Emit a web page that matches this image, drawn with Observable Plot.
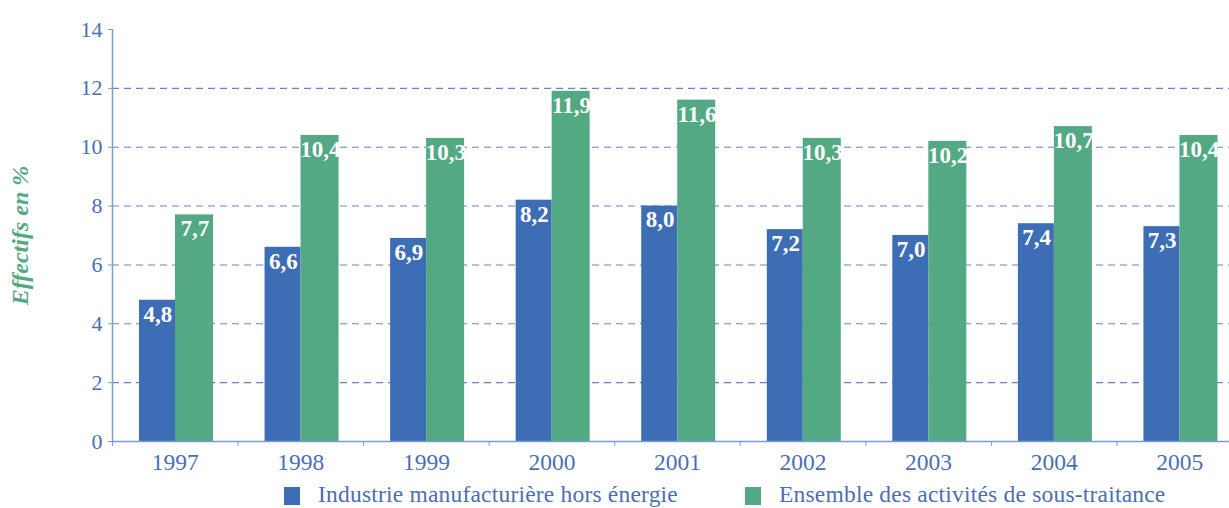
<!DOCTYPE html>
<html><head><meta charset="utf-8">
<script src="https://cdn.jsdelivr.net/npm/d3@7"></script>
<script src="https://cdn.jsdelivr.net/npm/@observablehq/plot@0.6"></script>
<style>
body{margin:0;background:#fff;font-family:"Liberation Serif",serif;overflow:hidden;}
#wrap{position:relative;width:1229px;height:508px;}
#legend{position:absolute;left:0;top:481px;width:1229px;height:26px;font-size:23.5px;line-height:26px;letter-spacing:0.2px;color:#4a6fb5;}
.item{position:absolute;top:0;display:flex;align-items:center;height:26px;}
.sw{display:inline-block;width:16px;height:18px;margin-right:18px;margin-top:4px;}
</style></head><body><div id="wrap"><div id="chart"></div><div id="legend"></div></div>
<script>
const years = ["1997","1998","1999","2000","2001","2002","2003","2004","2005"];
const industrie = [4.8, 6.6, 6.9, 8.2, 8.0, 7.2, 7.0, 7.4, 7.3];
const ensemble = [7.7, 10.4, 10.3, 11.9, 11.6, 10.3, 10.2, 10.7, 10.4];
const seriesNames = ["Industrie manufacturière hors énergie", "Ensemble des activités de sous-traitance"];
const seriesColors = ["#3d6db4", "#52a983"];
const yTicks = [0, 2, 4, 6, 8, 10, 12, 14];
const gridTicks = [2, 4, 6, 8, 10, 12];
const yLabel = "Effectifs en %";

const blue = years.map((y, i) => ({year: y, value: industrie[i]}));
const green = years.map((y, i) => ({year: y, value: ensemble[i]}));
const fmt = d => d3.format(".1f")(d.value).replace(".", ",");
const axisColor = "#4a6fb5";
const step = (1242 - 112) / years.length;

const chart = Plot.plot({
  width: 1229,
  height: 480,
  marginLeft: 112,
  marginRight: 0,
  marginTop: 29,
  marginBottom: 39,
  style: {fontFamily: "'Liberation Serif', serif", background: "white", overflow: "visible"},
  x: {domain: years, range: [112, 1242], padding: 0, round: false, axis: null},
  y: {domain: [0, 14], axis: null},
  marks: [
    Plot.gridY(gridTicks, {stroke: "#5a80c8", strokeOpacity: 0.95, strokeDasharray: "7,5", strokeWidth: 1.1}),
    Plot.barY(blue, {x: "year", y: "value", fill: seriesColors[0], insetLeft: 27, insetRight: step - 27 - 36}),
    Plot.barY(green, {x: "year", y: "value", fill: seriesColors[1], insetLeft: 63, insetRight: step - 63 - 38}),
    Plot.text(blue, {x: "year", y: "value", text: fmt, dx: -17.5, dy: 14, fill: "white", fontWeight: "bold", fontSize: 23}),
    Plot.text(green, {x: "year", y: "value", text: fmt, dx: 19.5, dy: 14, fill: "white", fontWeight: "bold", fontSize: 23}),
    Plot.ruleY([0], {stroke: "#7b9bd6", strokeWidth: 1.5}),
    Plot.ruleX([years[0]], {x: d => d, y1: 0, y2: 14, dx: -step / 2, stroke: "#7b9bd6", strokeWidth: 1.5}),
    Plot.axisY({ticks: yTicks, tickSize: 4, tickPadding: 6, fontSize: 22, color: axisColor, stroke: "#7b9bd6", label: null}),
    Plot.axisX({tickSize: 0, tickPadding: 12, fontSize: 23.5, color: axisColor, label: null}),
    Plot.axisX({tickSize: 5, text: null, dx: -step / 2, stroke: "#7b9bd6", label: null}),
    Plot.text([yLabel], {frameAnchor: "left", dx: -92, rotate: -90, textAnchor: "middle", text: d => d, fill: "#52a983", fontStyle: "italic", fontWeight: "bold", fontSize: 24})
  ]
});
document.getElementById("chart").appendChild(chart);

const legend = document.getElementById("legend");
const lefts = [284, 745];
seriesNames.forEach((name, i) => {
  const it = document.createElement("div");
  it.className = "item";
  it.style.left = lefts[i] + "px";
  it.innerHTML = `<span class="sw" style="background:${seriesColors[i]}"></span><span>${name}</span>`;
  legend.appendChild(it);
});
</script></body></html>
